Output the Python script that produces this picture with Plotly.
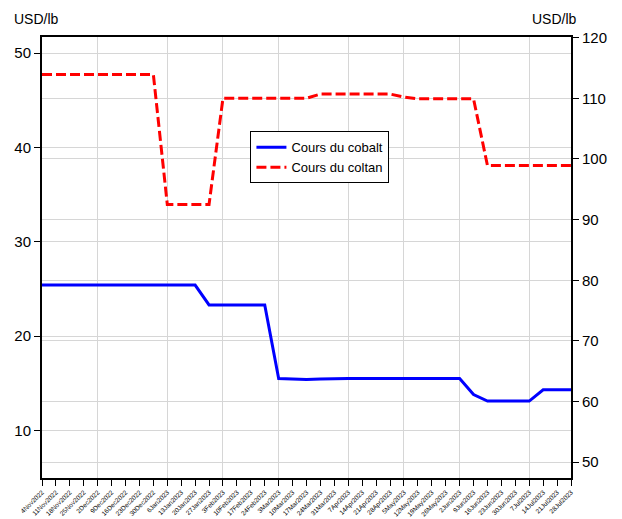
import plotly.graph_objects as go
from datetime import datetime

dates = ["4Nov2022", "11Nov2022", "18Nov2022", "25Nov2022", "2Dec2022", "9Dec2022",
         "16Dec2022", "23Dec2022", "30Dec2022", "6Jan2023", "13Jan2023", "20Jan2023",
         "27Jan2023", "3Feb2023", "10Feb2023", "17Feb2023", "24Feb2023", "3Mar2023",
         "10Mar2023", "17Mar2023", "24Mar2023", "31Mar2023", "7Apr2023", "14Apr2023",
         "21Apr2023", "28Apr2023", "5May2023", "12May2023", "19May2023", "26May2023",
         "2Jun2023", "9Jun2023", "16Jun2023", "23Jun2023", "30Jun2023", "7Jul2023",
         "14Jul2023", "21Jul2023", "28Jul2023"]

cobalt = [25.4] * 12 + [23.3] * 5 + [15.5, 15.45, 15.4, 15.45] + [15.5] * 10 + \
         [13.8] + [13.1] * 4 + [14.3] * 3

coltan = [113.9] * 9 + [92.5] * 4 + [110.0] * 7 + [110.7] * 6 + [110.2] + \
         [109.9] * 5 + [98.9] * 7

left_ticks = [10, 20, 30, 40, 50]
right_ticks = [50, 60, 70, 80, 90, 100, 110, 120]

x = list(range(len(dates)))
month_idx = [i for i, d in enumerate(dates) if datetime.strptime(d, "%d%b%Y").day <= 7]

FONT = "Liberation Sans, Arial, sans-serif"
GRID = "#d6d6d6"

fig = go.Figure()
fig.add_trace(go.Scatter(x=x, y=cobalt, name="Cours du cobalt", mode="lines",
                         line=dict(color="#0000ff", width=3), yaxis="y"))
fig.add_trace(go.Scatter(x=x, y=coltan, name="Cours du coltan", mode="lines",
                         line=dict(color="#ff0000", width=3, dash="10px,4px"), yaxis="y2"))

fig.update_layout(
    width=622, height=519,
    margin=dict(l=34, r=59, t=29, b=49, autoexpand=False),
    paper_bgcolor="white", plot_bgcolor="white",
    font=dict(family=FONT, color="black", size=15),
    showlegend=True,
    legend=dict(x=0.394, y=0.786, xanchor="left", yanchor="top",
                bgcolor="white", bordercolor="black", borderwidth=1,
                font=dict(size=13, family=FONT, color="black"), tracegroupgap=0,
                itemwidth=30),
    xaxis=dict(range=[0, len(dates) - 1], tickmode="array", tickvals=x, ticktext=dates,
               tickangle=-45, tickfont=dict(size=6.5, color="black"), ticks="outside",
               ticklen=6, tickcolor="black", showgrid=False, zeroline=False,
               showline=True, linecolor="black", linewidth=2, mirror=True,
               automargin=False,
               minor=dict(tickvals=month_idx, showgrid=True, gridcolor=GRID,
                          gridwidth=1, ticks="")),
    yaxis=dict(range=[4.95, 51.7], tickvals=left_ticks, ticks="outside", ticklen=6,
               tickcolor="black", showgrid=True, gridcolor=GRID, gridwidth=1,
               zeroline=False, showline=True, linecolor="black", linewidth=2,
               mirror=True, automargin=False, tickfont=dict(size=15)),
    yaxis2=dict(range=[47.4, 120.1], tickvals=right_ticks, overlaying="y", side="right",
                ticks="outside", ticklen=6, tickcolor="black", showgrid=True,
                gridcolor=GRID, gridwidth=1, zeroline=False, showline=True,
                linecolor="black", linewidth=2, automargin=False,
                tickfont=dict(size=15)),
    annotations=[
        dict(text="USD/lb", xref="paper", yref="paper", x=-0.056, y=1.064,
             xanchor="left", yanchor="top", showarrow=False, font=dict(size=14)),
        dict(text="USD/lb", xref="paper", yref="paper", x=0.923, y=1.040,
             xanchor="left", yanchor="middle", showarrow=False, font=dict(size=14)),
    ],
)

fig.write_html("out.html")
